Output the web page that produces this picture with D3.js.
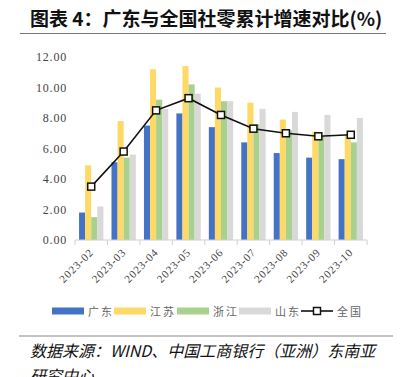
<!DOCTYPE html>
<html>
<head>
<meta charset="utf-8">
<script src="https://cdn.jsdelivr.net/npm/d3@7"></script>
<style>
body { margin: 0; background: #fff; }
svg { display: block; }
</style>
</head>
<body>
<script>
// categories and series
var months = ["2023-02","2023-03","2023-04","2023-05","2023-06","2023-07","2023-08","2023-09","2023-10"];
var guangdong = [1.8, 5.1, 7.5, 8.3, 7.4, 6.4, 5.7, 5.4, 5.3];
var jiangsu   = [4.9, 7.8, 11.2, 11.4, 10.0, 9.0, 7.9, 7.1, 6.9];
var zhejiang  = [1.5, 5.4, 9.2, 10.2, 9.1, 7.6, 7.2, 6.8, 6.4];
var shandong  = [2.2, 5.6, 8.6, 9.6, 9.1, 8.6, 8.4, 8.2, 8.0];
var national  = [3.5, 5.8, 8.5, 9.3, 8.2, 7.3, 7.0, 6.8, 6.9];
var yTicks = [0, 2, 4, 6, 8, 10, 12];

var barSeries = [
	{name: "广东", values: guangdong, color: "#4472C4"},
	{name: "江苏", values: jiangsu, color: "#FFD966"},
	{name: "浙江", values: zhejiang, color: "#A9D18E"},
	{name: "山东", values: shandong, color: "#D9D9D9"}
];

var W = 402, H = 377;
var margin = {left: 75, right: 35, top: 57, bottom: 137};
var serif = "'Liberation Serif', 'DejaVu Serif', serif";

var svg = d3.select("body").append("svg")
	.attr("width", W)
	.attr("height", H);

//title
svg.append("text")
	.attr("x", 30)
	.attr("y", 26)
	.style("font-family", "'Noto Sans CJK SC', sans-serif")
	.style("font-weight", "bold")
	.style("font-size", "19px")
	.style("fill", "#111")
	.text("图表 4：广东与全国社零累计增速对比(%)");
svg.append("line")
	.attr("x1", 20).attr("x2", 386)
	.attr("y1", 33.5).attr("y2", 33.5)
	.style("stroke", "#777")
	.style("stroke-width", 1.2);

//scales
var xScale = d3.scaleBand()
	.domain(months)
	.range([margin.left, W - margin.right])
	.paddingInner(0.25)
	.paddingOuter(0.125);
var yScale = d3.scaleLinear()
	.domain([0, 12])
	.range([H - margin.bottom, margin.top]);
var sub = d3.scaleBand()
	.domain(barSeries.map(function(s) { return s.name; }))
	.range([0, xScale.bandwidth()]);

//y axis labels only
svg.append("g").selectAll("text")
	.data(yTicks).enter()
		.append("text")
		.attr("x", 67)
		.attr("y", function(d) { return yScale(d) + 4; })
		.style("text-anchor", "end")
		.style("font-family", serif)
		.style("font-size", "12px")
		.style("letter-spacing", "0.8px")
		.style("fill", "#444")
		.text(function(d) { return d.toFixed(2); });

//bars
barSeries.forEach(function(s) {
	svg.append("g").selectAll("rect")
		.data(s.values).enter()
			.append("rect")
			.attr("x", function(d, i) { return xScale(months[i]) + sub(s.name); })
			.attr("y", function(d) { return yScale(d); })
			.attr("width", sub.bandwidth())
			.attr("height", function(d) { return yScale(0) - yScale(d); })
			.style("fill", s.color);
});

//x axis
var xAxis = svg.append("g")
	.attr("transform", "translate(0," + yScale(0) + ")");
xAxis.append("line")
	.attr("x1", margin.left).attr("x2", W - margin.right)
	.style("stroke", "#d0d0d0");
var step = xScale.step();
d3.range(months.length + 1).forEach(function(i) {
	var xx = margin.left + i * step;
	xAxis.append("line")
		.attr("x1", xx).attr("x2", xx)
		.attr("y1", 0).attr("y2", 5)
		.style("stroke", "#d0d0d0");
});
xAxis.selectAll("text.tick")
	.data(months).enter()
		.append("text")
		.attr("class", "tick")
		.attr("transform", function(d) {
			return "translate(" + (xScale(d) + xScale.bandwidth() / 2 + 3) + ",13) rotate(-45)";
		})
		.style("text-anchor", "end")
		.style("font-family", serif)
		.style("font-size", "11px")
		.style("letter-spacing", "0.9px")
		.style("fill", "#444")
		.text(function(d) { return d; });

//national line
var line = d3.line()
	.x(function(d, i) { return xScale(months[i]) + xScale.bandwidth() / 2; })
	.y(function(d) { return yScale(d); });
svg.append("path")
	.datum(national)
	.attr("d", line)
	.style("fill", "none")
	.style("stroke", "#111")
	.style("stroke-width", 1.6);
svg.append("g").selectAll("rect")
	.data(national).enter()
		.append("rect")
		.attr("x", function(d, i) { return xScale(months[i]) + xScale.bandwidth() / 2 - 3.5; })
		.attr("y", function(d) { return yScale(d) - 3.5; })
		.attr("width", 7).attr("height", 7)
		.style("fill", "#fff")
		.style("stroke", "#111")
		.style("stroke-width", 1.5);

//legend
var legendX = [52, 114, 177, 239, 301];
var legendY = 311;
barSeries.forEach(function(s, i) {
	svg.append("rect")
		.attr("x", legendX[i]).attr("y", legendY - 3.5)
		.attr("width", 32).attr("height", 7)
		.style("fill", s.color);
	svg.append("text")
		.attr("x", legendX[i] + 36).attr("y", legendY + 4.5)
		.style("font-family", "'Noto Sans CJK SC', serif")
		.style("font-size", "11px")
		.style("letter-spacing", "2px")
		.style("fill", "#666")
		.text(s.name);
});
svg.append("line")
	.attr("x1", legendX[4]).attr("x2", legendX[4] + 32)
	.attr("y1", legendY).attr("y2", legendY)
	.style("stroke", "#111").style("stroke-width", 1.6);
svg.append("rect")
	.attr("x", legendX[4] + 12.5).attr("y", legendY - 3.5)
	.attr("width", 7).attr("height", 7)
	.style("fill", "#fff").style("stroke", "#111").style("stroke-width", 1.5);
svg.append("text")
	.attr("x", legendX[4] + 36).attr("y", legendY + 4.5)
	.style("font-family", "'Noto Sans CJK SC', serif")
	.style("font-size", "11px")
	.style("letter-spacing", "2px")
	.style("fill", "#666")
	.text("全国");

//source
svg.append("line")
	.attr("x1", 19).attr("x2", 393)
	.attr("y1", 336).attr("y2", 336)
	.style("stroke", "#888")
	.style("stroke-width", 1.2);
var src = svg.append("text")
	.style("font-family", "'Noto Sans CJK SC', sans-serif")
	.style("font-style", "italic")
	.style("font-size", "16px")
	.style("fill", "#111");
src.append("tspan").attr("x", 30).attr("y", 357).text("数据来源：WIND、中国工商银行（亚洲）东南亚");
src.append("tspan").attr("x", 30).attr("y", 382).text("研究中心");
</script>
</body>
</html>
